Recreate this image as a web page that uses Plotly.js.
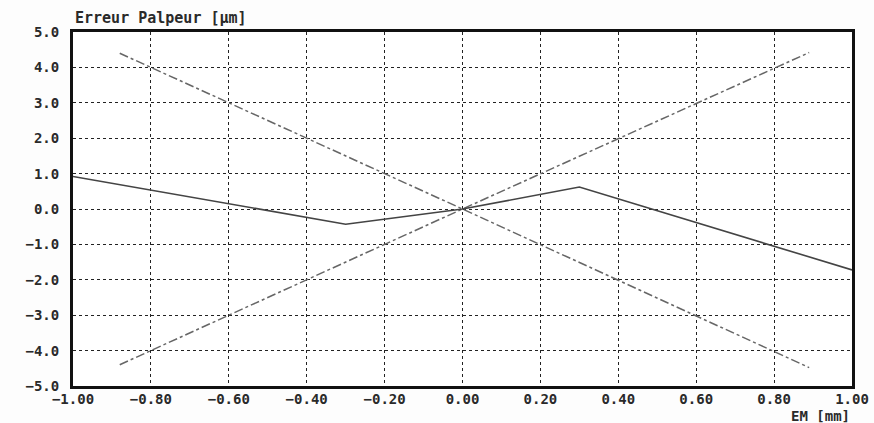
<!DOCTYPE html>
<html><head><meta charset="utf-8">
<script src="https://cdn.plot.ly/plotly-3.0.1.min.js"></script>
<style>html,body{margin:0;padding:0;background:#fff}#c{width:874px;height:423px}</style>
</head><body><div id="c"></div>
<script>
// Solid line: probe error
const solidX = [-1.00, -0.30, 0.00, 0.30, 1.00];
const solidY = [0.92, -0.43, 0.00, 0.62, -1.72];
// Descending dash-dot limit
const limDownX = [-0.88, 0.00, 0.89];
const limDownY = [4.40, 0.00, -4.48];
// Ascending dash-dot limit
const limUpX = [-0.88, 0.00, 0.89];
const limUpY = [-4.40, 0.00, 4.42];

const xTicks = [-1.0, -0.8, -0.6, -0.4, -0.2, 0.0, 0.2, 0.4, 0.6, 0.8, 1.0];
const yTicks = [-5, -4, -3, -2, -1, 0, 1, 2, 3, 4, 5];
const titleText = "Erreur Palpeur [\u03bcm]";
const xTitleText = "EM [mm]";

const fnt = {family: "DejaVu Sans Mono, Liberation Mono, monospace", size: 15, color: "#2a2a2a", weight: "bold"};
const tfnt = {family: "DejaVu Sans Mono, Liberation Mono, monospace", size: 14, color: "#2a2a2a", weight: "bold"};

const traces = [
  {x: limDownX, y: limDownY, mode: "lines", line: {color: "#666", width: 1.5, dash: "dashdot"}, hoverinfo: "none"},
  {x: limUpX, y: limUpY, mode: "lines", line: {color: "#666", width: 1.5, dash: "dashdot"}, hoverinfo: "none"},
  {x: solidX, y: solidY, mode: "lines", line: {color: "#444", width: 1.6}, hoverinfo: "none"}
];

const layout = {
  width: 874, height: 423,
  margin: {l: 73, r: 22, t: 32, b: 37, pad: 0},
  paper_bgcolor: "#fdfdfd", plot_bgcolor: "#ffffff",
  showlegend: false,
  font: fnt,
  xaxis: {
    range: [-1, 1], tickvals: xTicks, tickformat: ".2f",
    showgrid: true, gridcolor: "#222", griddash: "dot", gridwidth: 1,
    zeroline: false, showline: true, linecolor: "#111", linewidth: 3, mirror: true,
    ticks: "", ticklen: 0, tickfont: tfnt, automargin: false, ticklabelstandoff: -2
  },
  yaxis: {
    range: [-5, 5], tickvals: yTicks, tickformat: ".1f",
    showgrid: true, gridcolor: "#222", griddash: "dot", gridwidth: 1,
    zeroline: false, showline: true, linecolor: "#111", linewidth: 3, mirror: true,
    ticks: "", ticklen: 0, tickfont: tfnt, automargin: false, ticklabelstandoff: 8
  },
  annotations: [
    {text: titleText, xref: "paper", yref: "paper", x: 0, y: 1, xanchor: "left", yanchor: "bottom",
     yshift: 3, showarrow: false, font: fnt},
    {text: xTitleText, xref: "paper", yref: "paper", x: 1, y: 0, xanchor: "right", yanchor: "top",
     yshift: -20, showarrow: false, font: tfnt}
  ]
};

Plotly.newPlot("c", traces, layout, {staticPlot: true, displayModeBar: false});
</script>
</body></html>
